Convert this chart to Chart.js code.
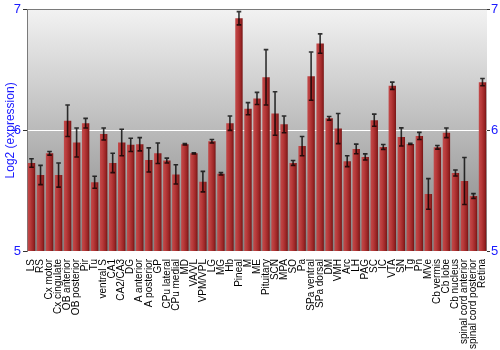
<!DOCTYPE html>
<html lang="en">
<head>
<meta charset="utf-8">
<script src="https://cdn.jsdelivr.net/npm/chart.js@4/dist/chart.umd.min.js"></script>
<style>
  body { margin: 0; background: white; }
</style>
</head>
<body>
<canvas id="canvas" width="500" height="350"></canvas>
<script>
// tissues along the x axis
var tissues = ["LS", "RS", "Cx motor", "Cx cingulate", "OB anterior", "OB posterior", "Pir", "Tu",
  "ventral S", "CA1", "CA2/CA3", "DG", "A anterior", "A posterior", "GP", "CPu lateral", "CPu medial",
  "MD", "VA/VL", "VPM/VPL", "LG", "MG", "Hb", "Pineal", "M", "ME", "Pituitary", "SCN", "MPA", "SO",
  "Pa", "SPa ventral", "SPa dorsal", "DM", "VMH", "Arc", "LH", "PAG", "SC", "IC", "VTA", "SN", "Tg",
  "Pn", "MVe", "Cb vermis", "Cb lobe", "Cb nucleus", "spinal cord anterior", "spinal cord posterior", "Retina"];

// mean log2 expression
var expression = [5.73, 5.63, 5.81, 5.63, 6.08, 5.90, 6.06, 5.57,
  5.97, 5.73, 5.90, 5.88, 5.885, 5.755, 5.81, 5.75, 5.635,
  5.885, 5.81, 5.575, 5.91, 5.64, 6.06, 6.93, 6.18, 6.265, 6.44, 6.14, 6.05, 5.73,
  5.87, 6.45, 6.72, 6.10, 6.015, 5.745, 5.846, 5.78, 6.085, 5.863, 6.37, 5.946, 5.888,
  5.954, 5.473, 5.86, 5.98, 5.647, 5.58, 5.456, 6.40];

// half height of each error bar
var errors = [0.035, 0.08, 0.015, 0.1, 0.13, 0.12, 0.04, 0.05,
  0.05, 0.08, 0.11, 0.055, 0.055, 0.1, 0.085, 0.02, 0.08,
  0.005, 0.005, 0.085, 0.015, 0.01, 0.06, 0.055, 0.05, 0.05, 0.23, 0.18, 0.07, 0.02,
  0.08, 0.2, 0.08, 0.015, 0.125, 0.045, 0.04, 0.025, 0.05, 0.02, 0.03, 0.075, 0.005,
  0.03, 0.127, 0.015, 0.04, 0.025, 0.195, 0.02, 0.03];

var yTicks = [5, 6, 7];

var blue = "#1a1aff";
var fontName = "'Liberation Sans', Arial, sans-serif";
var barPct = 0.82;

// gray gradient behind the bars
var backgroundPlugin = {
  id: "bg",
  beforeDraw: function(chart) {
    var a = chart.chartArea, ctx = chart.ctx;
    var g = ctx.createLinearGradient(0, a.top, 0, a.bottom);
    g.addColorStop(0, "#f2f2f2");
    g.addColorStop(1, "#828282");
    ctx.save();
    ctx.fillStyle = g;
    ctx.fillRect(a.left, a.top, a.right - a.left, a.bottom - a.top);
    ctx.restore();
  }
};

// error bars with little caps
var errorBarPlugin = {
  id: "errbars",
  afterDatasetsDraw: function(chart) {
    var ctx = chart.ctx, y = chart.scales.y;
    var meta = chart.getDatasetMeta(0);
    ctx.save();
    ctx.strokeStyle = "rgba(0,0,0,0.78)";
    ctx.lineWidth = 1.6;
    meta.data.forEach(function(bar, i) {
      var x = bar.x;
      var hi = y.getPixelForValue(expression[i] + errors[i]);
      var lo = y.getPixelForValue(expression[i] - errors[i]);
      ctx.beginPath();
      ctx.moveTo(x, hi); ctx.lineTo(x, lo);
      ctx.moveTo(x - 2.3, hi); ctx.lineTo(x + 2.3, hi);
      ctx.moveTo(x - 2.3, lo); ctx.lineTo(x + 2.3, lo);
      ctx.stroke();
    });
    ctx.restore();
  }
};

// each bar gets a left-to-right shading
function barColor(c) {
  var chart = c.chart;
  var xs = chart.scales.x;
  if (!chart.chartArea || !xs || c.dataIndex === undefined) return "#b03030";
  var cx = xs.getPixelForValue(c.dataIndex);
  var half = (xs.width / tissues.length) * barPct / 2;
  var g = chart.ctx.createLinearGradient(cx - half, 0, cx + half, 0);
  g.addColorStop(0, "#c24a4a");
  g.addColorStop(0.35, "#b83a3a");
  g.addColorStop(0.75, "#9a2525");
  g.addColorStop(1, "#761414");
  return g;
}

var ctx = document.getElementById("canvas").getContext("2d");
new Chart(ctx, {
  type: "bar",
  data: {
    labels: tissues,
    datasets: [{
      data: expression,
      backgroundColor: barColor,
      borderWidth: 0,
      barPercentage: barPct,
      categoryPercentage: 1
    }]
  },
  options: {
    responsive: false,
    animation: false,
    layout: { padding: { top: 9, left: 0, right: 0, bottom: 0 } },
    plugins: { legend: { display: false }, tooltip: { enabled: false } },
    scales: {
      x: {
        grid: { display: false },
        border: { display: false },
        ticks: {
          autoSkip: false, minRotation: 90, maxRotation: 90, padding: 0,
          color: "#000", font: { family: fontName, size: 10 }
        },
        afterFit: function(s) { s.height = 99; }
      },
      y: {
        position: "left",
        min: 5, max: 7,
        afterBuildTicks: function(s) { s.ticks = yTicks.map(function(v) { return { value: v }; }); },
        grid: {
          color: function(c) {
            if (c.tick.value === 6) return "#ffffff";
            if (c.tick.value === 7) return "#7a7a7a";
            return "rgba(0,0,0,0)";
          },
          tickColor: "#333",
          tickLength: 4
        },
        border: { color: "#7a7a7a" },
        ticks: { color: blue, padding: 2, font: { family: fontName, size: 13 } },
        title: {
          display: true, text: "Log2 (expression)", color: blue,
          padding: { top: 3, bottom: 0 }, font: { family: fontName, size: 12 }
        },
        afterFit: function(s) { s.width = 27; }
      },
      y2: {
        position: "right",
        min: 5, max: 7,
        afterBuildTicks: function(s) { s.ticks = yTicks.map(function(v) { return { value: v }; }); },
        grid: { drawOnChartArea: false, color: "#333", tickLength: 3 },
        border: { display: false },
        ticks: { color: blue, padding: 1, font: { family: fontName, size: 13 } },
        afterFit: function(s) { s.width = 13; }
      }
    }
  },
  plugins: [backgroundPlugin, errorBarPlugin]
});
</script>
</body>
</html>
